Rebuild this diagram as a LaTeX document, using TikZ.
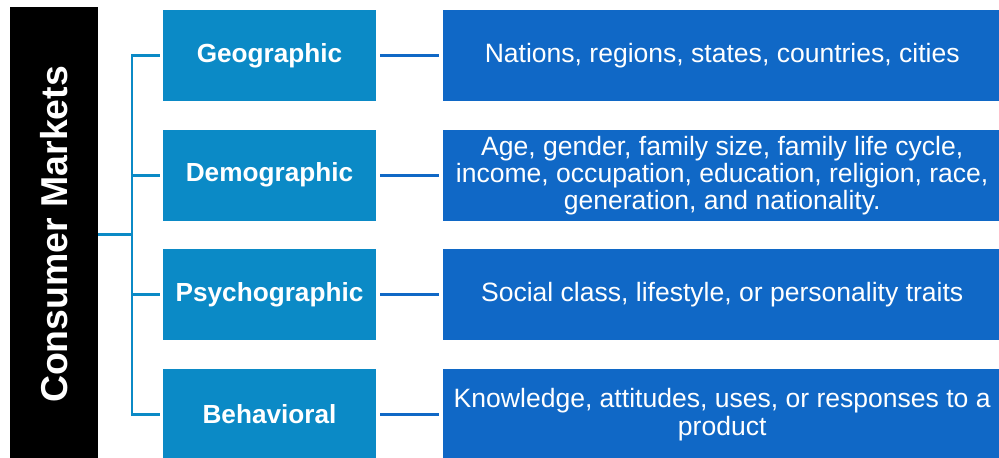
\documentclass[tikz,border=0pt]{standalone}
\usepackage{fontspec}
\setmainfont{Liberation Sans}
\usetikzlibrary{positioning}
\definecolor{segblue}{HTML}{0B8AC6}
\definecolor{noteblue}{HTML}{1068C6}
\tikzset{
	segment/.style={
		fill=segblue, text=white, inner sep=0pt,
		minimum width=4.26cm, minimum height=1.82cm,
		font=\bfseries\fontsize{14.9}{17}\selectfont
	},
	note/.style={
		fill=noteblue, text=white, inner sep=0pt, align=center,
		minimum width=11.18cm, minimum height=1.82cm,
		font=\fontsize{15.1}{15.4}\selectfont
	},
	branch/.style={segblue, line width=1.7pt},
	link/.style={noteblue, line width=1.7pt, shorten <=0.08cm, shorten >=0.06cm}
}

\begin{document}
\begin{tikzpicture}
		\useasboundingbox (0, 0) rectangle (19.98, 9.14);

		% title bar
		\node[fill=black, text=white, rotate=90, inner sep=0pt,
			minimum width=9.1cm, minimum height=1.76cm,
			font=\bfseries\fontsize{21.3}{24}\selectfont] (title) at (1.08, 4.45) {Consumer Markets};

		% segmentation bases
		\node[segment] (geo) at (5.39, 8.03) {Geographic};
		\node[segment, below=0.56cm of geo] (demo) {Demographic};
		\node[segment, below=0.56cm of demo] (psy) {Psychographic};
		\node[segment, below=0.56cm of psy] (beh) {Behavioral};

		% what each base covers
		\node[note, right=1.32cm of geo] (geonote) {Nations, regions, states, countries, cities};
		\node[note, right=1.32cm of demo] (demonote) {Age, gender, family size, family life cycle,\\ income, occupation, education, religion, race,\\ generation, and nationality.};
		\node[note, right=1.32cm of psy] (psynote) {Social class, lifestyle, or personality traits};
		\node[note, right=1.32cm of beh] (behnote) {Knowledge, attitudes, uses, or responses to a\\ product};

		% tree on the left
		\coordinate (trunk) at (2.64, 0);
		\draw[branch] (title.south) -- (title.south -| trunk);
		\draw[branch] ([xshift=-0.06cm]geo.west) -- (geo.west -| trunk) -- (beh.west -| trunk) -- ([xshift=-0.06cm]beh.west);
		\draw[branch] (demo.west -| trunk) -- ([xshift=-0.06cm]demo.west);
		\draw[branch] (psy.west -| trunk) -- ([xshift=-0.06cm]psy.west);

		\draw[link] (geo) -- (geonote);
		\draw[link] (demo) -- (demonote);
		\draw[link] (psy) -- (psynote);
		\draw[link] (beh) -- (behnote);
	\end{tikzpicture}
\end{document}
